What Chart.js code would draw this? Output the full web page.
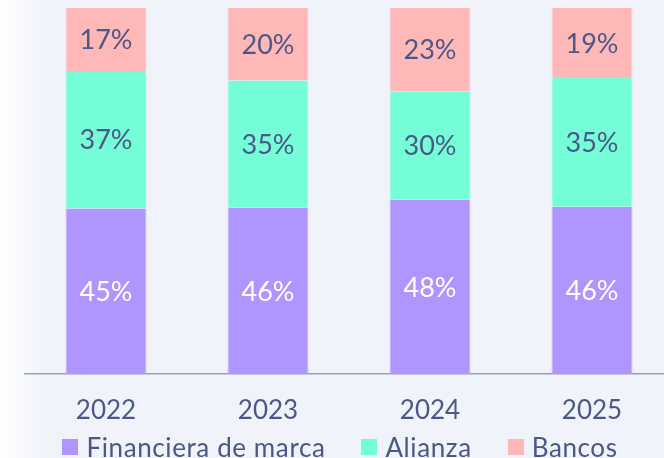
<!DOCTYPE html>
<html>
<head>
<meta charset="utf-8">
<script src="https://cdn.jsdelivr.net/npm/chart.js@4"></script>
<style>
  html, body { margin:0; padding:0; overflow:hidden; }
  body { width:664px; height:458px; background:linear-gradient(90deg, #ffffff 0px, #f0f3f9 45px, #f0f3f9 100%); font-family:Lato, "Open Sans", sans-serif; }
  #wrap { position:absolute; left:0; top:0; width:680px; height:434px; }
  #legend { position:absolute; left:0; top:431px; width:680px; height:32px; display:flex; justify-content:center; align-items:center; gap:36px; }
  #legend .item { display:flex; align-items:center; gap:8px; color:#4b5887; font-size:26px; letter-spacing:0.6px; white-space:nowrap; }
  #legend .box { width:16px; height:16px; flex:none; }
</style>
</head>
<body>
<div id="wrap"><canvas id="c"></canvas></div>
<div id="legend"></div>
<script>
// years on the x axis
var years = ['2022', '2023', '2024', '2025'];
// share of each channel
var financiera = [45.2, 45.4, 47.6, 45.7];
var alianza    = [37.6, 34.8, 29.6, 35.2];
var bancos     = [17.2, 19.8, 22.8, 19.1];
// labels printed inside the bars
var financieraTxt = ['45%', '46%', '48%', '46%'];
var alianzaTxt    = ['37%', '35%', '30%', '35%'];
var bancosTxt     = ['17%', '20%', '23%', '19%'];

var INK = '#4b5887';
var FONT = 'Lato, "Open Sans", sans-serif';

var segLabels = {
  id: 'segLabels',
  afterDatasetsDraw: function(chart) {
    var ctx = chart.ctx;
    ctx.save();
    ctx.font = '27px ' + FONT;
    ctx.textAlign = 'center';
    ctx.textBaseline = 'middle';
    chart.data.datasets.forEach(function(ds, i) {
      chart.getDatasetMeta(i).data.forEach(function(bar, j) {
        ctx.fillStyle = ds.txtColor;
        ctx.fillText(ds.txt[j], bar.x, (bar.y + bar.base) / 2 + 1);
      });
    });
    ctx.restore();
  }
};

var chart = new Chart(document.getElementById('c'), {
  type: 'bar',
  data: {
    labels: years,
    datasets: [
      {label:'Financiera de marca', data:financiera, txt:financieraTxt, txtColor:'#ffffff', backgroundColor:'#b195ff', borderColor:'#c6b5ff', borderWidth:{left:1, right:1, top:0, bottom:0}},
      {label:'Alianza', data:alianza, txt:alianzaTxt, txtColor:INK, backgroundColor:'#74fdd6', borderColor:'#9ef5e6', borderWidth:{left:1, right:1, top:0, bottom:0}},
      {label:'Bancos', data:bancos, txt:bancosTxt, txtColor:INK, backgroundColor:'#ffb8b8', borderColor:'#f7cfd8', borderWidth:{left:1, right:1, top:0, bottom:0}}
    ]
  },
  options: {
    responsive: true,
    maintainAspectRatio: false,
    animation: false,
    categoryPercentage: 1,
    barPercentage: 0.5,
    layout: { padding: { top: 8, left: 0, right: 0, bottom: 0 } },
    plugins: {
      tooltip: { enabled: false },
      legend: { display: false }
    },
    scales: {
      x: {
        stacked: true,
        grid: { display: false, drawTicks: false },
        border: { display: true, color: '#9aa2b8', width: 1.5 },
        ticks: { color: INK, font: { family: FONT, size: 26 }, padding: 21 },
        afterFit: function(s) { s.height = 60; }
      },
      y: {
        stacked: true, min: 0, max: 100, position: 'left',
        grid: { display: false }, border: { display: false },
        ticks: { display: false },
        afterFit: function(s) { s.width = 25; }
      },
      y2: {
        position: 'right', min: 0, max: 100,
        grid: { display: false }, border: { display: false },
        ticks: { display: false },
        afterFit: function(s) { s.width = 7; }
      }
    }
  },
  plugins: [segLabels]
});

// legend as plain html, built from the datasets
var lg = document.getElementById('legend');
chart.data.datasets.forEach(function(ds) {
  var it = document.createElement('div');
  it.className = 'item';
  it.innerHTML = '<span class="box" style="background:' + ds.backgroundColor + '"></span><span>' + ds.label + '</span>';
  lg.appendChild(it);
});
</script>
</body>
</html>
